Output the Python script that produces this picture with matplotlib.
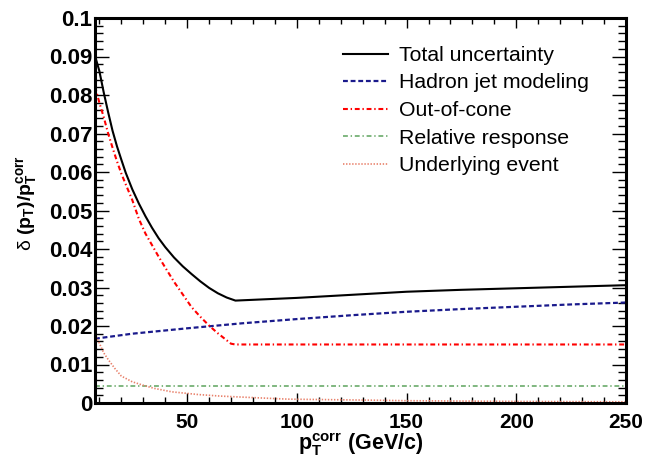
import matplotlib
matplotlib.use("Agg")
import matplotlib.pyplot as plt
from matplotlib.ticker import MultipleLocator

plt.rcParams['font.family'] = ['Liberation Sans', 'DejaVu Sans']
plt.rcParams['mathtext.fontset'] = 'custom'
plt.rcParams['mathtext.rm'] = 'Liberation Sans'
plt.rcParams['mathtext.bf'] = 'Liberation Sans:bold'
plt.rcParams['mathtext.it'] = 'Liberation Sans:italic'
plt.rcParams['lines.scale_dashes'] = False

# Total uncertainty
total_x = [8, 10, 12, 14, 16, 18, 20, 22, 25, 28, 31, 34, 37, 40, 44, 48, 52, 56, 60, 64, 68, 72,
           80, 100, 125, 150, 175, 200, 225, 250]
total_y = [0.0902, 0.0862, 0.0806, 0.0755, 0.0707, 0.0667, 0.0632, 0.0598, 0.0555, 0.0518, 0.0485,
           0.0455, 0.0428, 0.0405, 0.0378, 0.0355, 0.0335, 0.0316, 0.0299, 0.0285, 0.0274, 0.0266,
           0.0268, 0.0273, 0.0281, 0.0289, 0.0294, 0.0298, 0.0302, 0.0306]

# Hadron jet modeling
hadron_x = [8, 25, 50, 75, 100, 125, 150, 175, 200, 225, 250]
hadron_y = [0.0167, 0.0180, 0.0194, 0.0207, 0.0218, 0.0228, 0.0237, 0.0244, 0.0250, 0.0256, 0.0261]

# Out-of-cone
ooc_x = [8, 10, 12, 14, 16, 18, 20, 22, 25, 28, 31, 34, 37, 40, 44, 48, 52, 56, 60, 64, 68, 70, 72, 250]
ooc_y = [0.0822, 0.0780, 0.0742, 0.0700, 0.0663, 0.0628, 0.0596, 0.0568, 0.0527, 0.0478, 0.0440,
         0.0410, 0.0380, 0.0352, 0.0315, 0.0282, 0.0249, 0.0224, 0.0201, 0.0181, 0.0163, 0.0154,
         0.0152, 0.0152]

# Relative response
rel_x = [8, 250]
rel_y = [0.0045, 0.0045]

# Underlying event
ue_x = [8, 10, 12, 14, 17, 20, 25, 30, 35, 43, 55, 65, 80, 96, 125, 150, 200, 250]
ue_y = [0.0180, 0.0155, 0.0130, 0.0113, 0.0090, 0.0070, 0.0055, 0.0046, 0.0038, 0.0029, 0.0022,
        0.0018, 0.0014, 0.0010, 0.0008, 0.0006, 0.0004, 0.0003]

fig = plt.figure(figsize=(6.46, 4.62), dpi=100)
ax = fig.add_axes([95 / 646, 1 - 403 / 462, 531 / 646, 385 / 462])

ax.plot(total_x, total_y, color='black', lw=1.5, label='Total uncertainty')
ax.plot(hadron_x, hadron_y, color='#1a1a8c', lw=1.6, dashes=(3.5, 2), label='Hadron jet modeling')
ax.plot(ooc_x, ooc_y, color='#ff0000', lw=1.5, dashes=(3.5, 2, 1, 2), label='Out-of-cone')
ax.plot(rel_x, rel_y, color='#6aaa6a', lw=1.2, dashes=(3.5, 2, 1, 2), label='Relative response')
ax.plot(ue_x, ue_y, color='#e8806a', lw=1.2, dashes=(1, 1.2), label='Underlying event')

ax.set_xlim(8, 250)
ax.set_ylim(0, 0.1)

ax.xaxis.set_major_locator(MultipleLocator(50))
ax.xaxis.set_minor_locator(MultipleLocator(10))
ax.yaxis.set_minor_locator(MultipleLocator(0.002))

ax.set_yticks([i * 0.01 for i in range(11)])
ax.set_yticklabels(['0', '0.01', '0.02', '0.03', '0.04', '0.05', '0.06', '0.07', '0.08', '0.09', '0.1'])

ax.tick_params(axis='both', which='both', direction='in', top=True, right=True, width=1.0)
ax.tick_params(axis='y', which='major', length=10, pad=2)
ax.tick_params(axis='y', which='minor', length=5.5)
ax.tick_params(axis='x', which='major', length=7.5, pad=7)
ax.tick_params(axis='x', which='minor', length=4)
for lab in ax.get_yticklabels():
    lab.set_fontsize(16)
    lab.set_fontweight('bold')
for lab in ax.get_xticklabels():
    lab.set_fontsize(15)
    lab.set_fontweight('bold')

for sp in ax.spines.values():
    sp.set_linewidth(2.2)

ax.set_xlabel(r'$\mathbf{p_{T}^{corr}}$ (GeV/c)', fontsize=15.5, fontweight='bold')
ax.xaxis.set_label_coords(0.5, -0.072)
ax.set_ylabel(r'$\mathrm{\delta}$ $\mathbf{(p_{T})/p_{T}^{corr}}$', fontsize=14, fontweight='bold')
ax.yaxis.set_label_coords(-0.105, 0.52)

ax.legend(loc='upper left', bbox_to_anchor=(343 / 646, 1 - 46 / 462), bbox_transform=fig.transFigure,
          frameon=False, fontsize=15.3, handlelength=2.1, handletextpad=0.55,
          labelspacing=0.4, borderpad=0, borderaxespad=0)

fig.savefig('out.png', dpi=100)
